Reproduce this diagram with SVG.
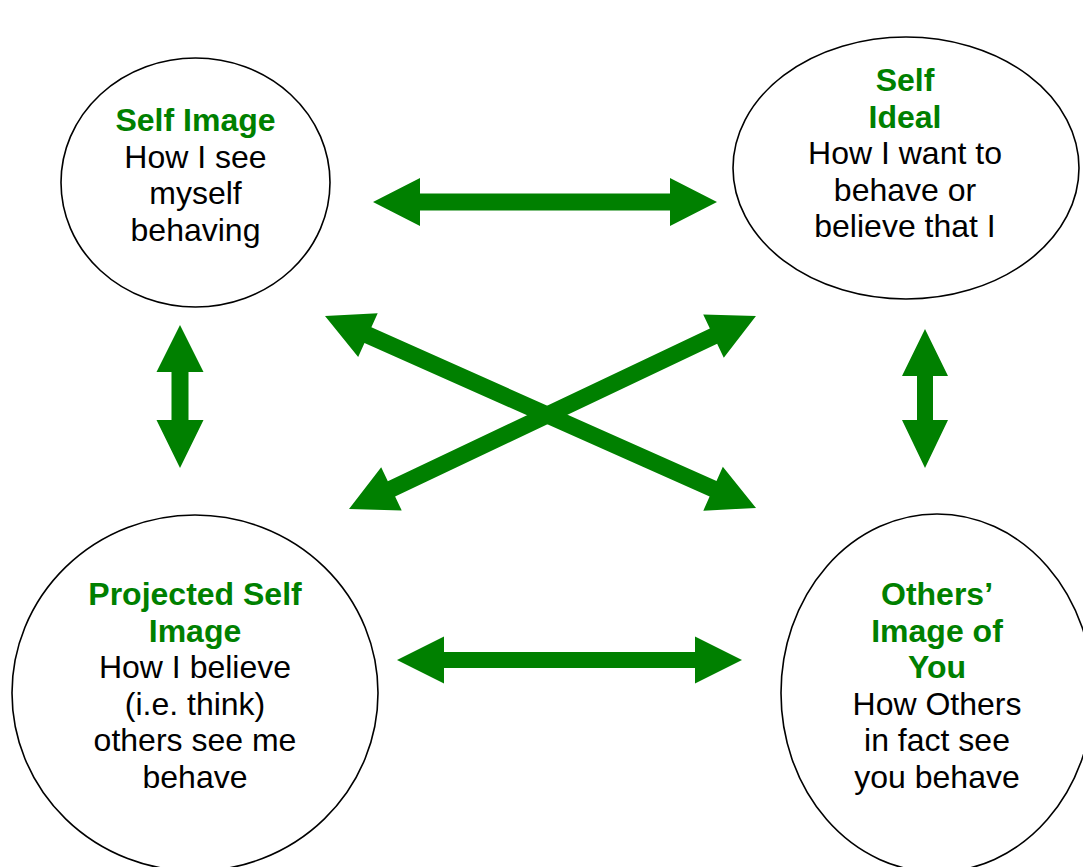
<svg xmlns="http://www.w3.org/2000/svg" width="1083" height="867" viewBox="0 0 1083 867">
<style>
.node ellipse{fill:#ffffff;stroke:#000000;stroke-width:1.6}
.t{font-family:"Liberation Sans",Arial,sans-serif;font-size:32px;text-anchor:middle;fill:#000000}
.h{font-weight:bold;fill:#008000}
.arr{fill:#008000;stroke:none}
</style>
<rect width="1083" height="867" fill="#ffffff"/>
<g id="connectors">
<polygon class="arr" transform="translate(373,202)" points="0,0 47,-24 47,-8.5 297,-8.5 297,-24 344,0 297,24 297,8.5 47,8.5 47,24"/>
<polygon class="arr" transform="translate(397,660)" points="0,0 47,-23.5 47,-8 298,-8 298,-23.5 345,0 298,23.5 298,8 47,8 47,23.5"/>
<polygon class="arr" transform="translate(180,325) rotate(90)" points="0,0 47,-23.5 47,-8.5 95,-8.5 95,-23.5 143,0 95,23.5 95,8.5 47,8.5 47,23.5"/>
<polygon class="arr" transform="translate(925,329) rotate(90)" points="0,0 47,-23 47,-8 91,-8 91,-23 139,0 91,23 91,8 47,8 47,23"/>
<polygon class="arr" transform="translate(325,316) rotate(24.0)" points="0,0 47,-24 47,-8.5 424.8,-8.5 424.8,-24 471.8,0 424.8,24 424.8,8.5 47,8.5 47,24"/>
<polygon class="arr" transform="translate(349,509) rotate(-25.37)" points="0,0 47,-24 47,-8.5 403.4,-8.5 403.4,-24 450.4,0 403.4,24 403.4,8.5 47,8.5 47,24"/>
</g>
<g id="self-image" class="node">
<ellipse cx="195.5" cy="182.5" rx="134.5" ry="124.5"/>
<text class="t h" x="195.5" y="131">Self Image</text>
<text class="t" x="195.5" y="167.5">How I see</text>
<text class="t" x="195.5" y="204">myself</text>
<text class="t" x="195.5" y="240.5">behaving</text>
</g>
<g id="self-ideal" class="node">
<ellipse cx="906" cy="168" rx="173" ry="131"/>
<text class="t h" x="905" y="91">Self</text>
<text class="t h" x="905" y="127.5">Ideal</text>
<text class="t" x="905" y="164">How I want to</text>
<text class="t" x="905" y="200.5">behave or</text>
<text class="t" x="905" y="237">believe that I</text>
</g>
<g id="projected-self-image" class="node">
<ellipse cx="195" cy="693" rx="183" ry="178"/>
<text class="t h" x="195" y="605">Projected Self</text>
<text class="t h" x="195" y="641.5">Image</text>
<text class="t" x="195" y="678">How I believe</text>
<text class="t" x="195" y="714.5">(i.e. think)</text>
<text class="t" x="195" y="751">others see me</text>
<text class="t" x="195" y="787.5">behave</text>
</g>
<g id="others-image" class="node">
<ellipse cx="937" cy="693" rx="156" ry="179"/>
<text class="t h" x="937" y="605">Others’</text>
<text class="t h" x="937" y="641.5">Image of</text>
<text class="t h" x="937" y="678">You</text>
<text class="t" x="937" y="714.5">How Others</text>
<text class="t" x="937" y="751">in fact see</text>
<text class="t" x="937" y="787.5">you behave</text>
</g>
</svg>
